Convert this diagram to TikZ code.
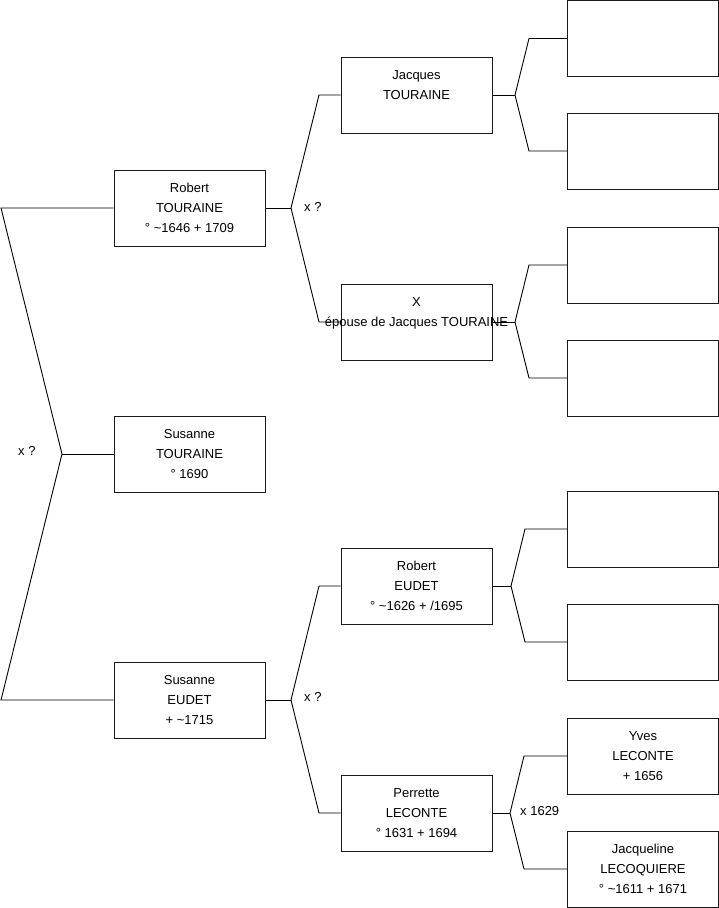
\documentclass[tikz,border=0pt]{standalone}
\usepackage{fontspec}
\setmainfont{Liberation Sans}
\usetikzlibrary{positioning,calc}

\tikzset{
  person/.style={draw=black!90, line width=1pt, minimum width=151pt, minimum height=76pt,
    inner sep=0pt, align=center, font=\fontsize{13}{20}\selectfont},
  link/.style={draw=black, line width=0.9pt},
  wedlock/.style={anchor=west, inner sep=0pt, font=\fontsize{13}{16}\selectfont},
}

\begin{document}
\begin{tikzpicture}[x=1pt, y=-1pt]
            \useasboundingbox (0,0) rectangle (719,908);
            % generation 1
            \node[person] (susanneT) at (189.5,454) {Susanne\\TOURAINE\\° 1690};
            % generation 2
            \node[person] (robertT) at (189.5,208) {Robert\\TOURAINE\\° \textasciitilde 1646 + 1709};
            \node[person] (susanneE) at (189.5,700) {Susanne\\EUDET\\+ \textasciitilde 1715};
            % generation 3
            \node[person] (jacquesT) at (416.5,95) {Jacques\\TOURAINE\\~};
            \node[person] (epouseX) at (416.5,322) {X\\\makebox[0pt]{épouse de Jacques TOURAINE}\\~};
            \node[person] (robertE) at (416.5,586) {Robert\\EUDET\\° \textasciitilde 1626 + /1695};
            \node[person] (perretteL) at (416.5,813) {Perrette\\LECONTE\\° 1631 + 1694};
            % generation 4
            \node[person] (p1) at (643,38.5) {};
            \node[person] (p2) at (643,151) {};
            \node[person] (p3) at (643,265) {};
            \node[person] (p4) at (643,378) {};
            \node[person] (p5) at (643,529) {};
            \node[person] (p6) at (643,642) {};
            \node[person] (yvesL) at (643,756) {Yves\\LECONTE\\+ 1656};
            \node[person] (jacquelineL) at (643,869) {Jacqueline\\LECOQUIERE\\° \textasciitilde 1611 + 1671};
            % couple Robert x Susanne
            \coordinate (ka) at (62,454);
            \coordinate (ka1) at (1,208);
            \coordinate (ka2) at (1,700);
            \draw[link] (robertT.west) -- (ka1) -- (ka) -- (ka2) -- (susanneE.west);
            \draw[link] (ka) -- (susanneT.west);
            \node[wedlock] (mariageA) at (18,451) {x ?};
            % couple Jacques x X
            \coordinate (kb) at (291,208);
            \coordinate (kb1) at (319,95);
            \coordinate (kb2) at (319,322);
            \draw[link] (jacquesT.west) -- (kb1) -- (kb) -- (kb2) -- (epouseX.west);
            \draw[link] (kb) -- (robertT.east);
            \node[wedlock] (mariageB) at (304,207) {x ?};
            % couple Robert x Perrette
            \coordinate (kc) at (291,700);
            \coordinate (kc1) at (319,586);
            \coordinate (kc2) at (319,813);
            \draw[link] (robertE.west) -- (kc1) -- (kc) -- (kc2) -- (perretteL.west);
            \draw[link] (kc) -- (susanneE.east);
            \node[wedlock] (mariageC) at (304,697) {x ?};
            % parents of Jacques
            \coordinate (kd) at (515,95);
            \coordinate (kd1) at (529,38.5);
            \coordinate (kd2) at (529,151);
            \draw[link] (p1.west) -- (kd1) -- (kd) -- (kd2) -- (p2.west);
            \draw[link] (kd) -- (jacquesT.east);
            % parents of X
            \coordinate (ke) at (515,322);
            \coordinate (ke1) at (529,265);
            \coordinate (ke2) at (529,378);
            \draw[link] (p3.west) -- (ke1) -- (ke) -- (ke2) -- (p4.west);
            \draw[link] (ke) -- (epouseX.east);
            % parents of Robert
            \coordinate (kf) at (511,586);
            \coordinate (kf1) at (525,529);
            \coordinate (kf2) at (525,642);
            \draw[link] (p5.west) -- (kf1) -- (kf) -- (kf2) -- (p6.west);
            \draw[link] (kf) -- (robertE.east);
            % parents of Perrette
            \coordinate (kg) at (510,813);
            \coordinate (kg1) at (524,756);
            \coordinate (kg2) at (524,869);
            \draw[link] (yvesL.west) -- (kg1) -- (kg) -- (kg2) -- (jacquelineL.west);
            \draw[link] (kg) -- (perretteL.east);
            \node[wedlock] (mariageD) at (520,811) {x 1629};
        \end{tikzpicture}
\end{document}
